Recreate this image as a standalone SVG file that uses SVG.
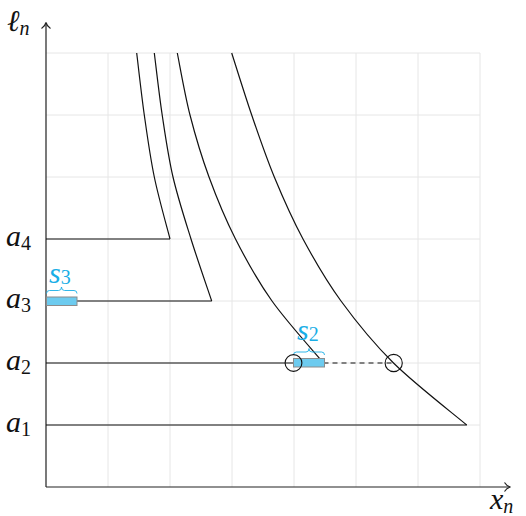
<svg xmlns="http://www.w3.org/2000/svg" width="526" height="516" viewBox="0 0 526 516">
<style>
.grid{stroke:#e6e6e6;stroke-width:1;fill:none}
.ax{stroke:#222;stroke-width:1.2;fill:none}
.cv{stroke:#111;stroke-width:1.2;fill:none}
.lab{font-family:"Liberation Serif","DejaVu Serif",serif;font-style:italic;font-size:30px;fill:#111}
.sub{font-size:20px;font-style:normal}
.subi{font-size:20px;font-style:italic}
.cy{fill:#1aaee6}
.bar{fill:#6dcbef;stroke:#8c8c8c;stroke-width:1}
.br{stroke:#1aaee6;stroke-width:0.9;fill:none}
.circ{stroke:#111;stroke-width:1.1;fill:none}
</style>
<rect width="526" height="516" fill="#fff"/>
<g id="grid" class="grid">
<path d="M108,53V487M170,53V487M232,53V487M294,53V487M356,53V487M418,53V487M480,53V487"/>
<path d="M46,53H480M46,115H480M46,177H480M46,239H480M46,301H480M46,363H480M46,425H480"/>
</g>
<g id="connectors">
<path class="ax" d="M46,487H510M46,487V23"/>
<path class="ax" d="M504.5,482.5C506,485 508.5,486.5 510.5,487C508.5,487.5 506,489 504.5,491.5"/>
<path class="ax" d="M41.5,28.5C44,27 45.5,24.5 46,22.5C46.5,24.5 48,27 50.5,28.5"/>
<path class="cv" d="M46,239H170M46,301H211.7M46,363H323.5M46,425H466.7"/>
<path class="cv" stroke-dasharray="5,4" d="M323.5,363H394"/>
<path class="cv" d="M136.7,53C137.97,63.33 141.37,94.33 144.3,115C147.23,135.67 150.02,156.33 154.3,177C158.58,197.67 167.38,228.67 170,239"/>
<path class="cv" d="M154.3,53C155.62,63.33 159.08,94.33 162.2,115C165.32,135.67 168.2,156.33 173,177C177.8,197.67 184.55,218.33 191,239C197.45,259.67 208.25,290.67 211.7,301"/>
<path class="cv" d="M177.3,53C179.42,63.33 184.72,94.33 190,115C195.28,135.67 201.42,156.33 209,177C216.58,197.67 225,218.33 235.5,239C246,259.67 257.33,280.33 272,301C286.67,321.67 314.92,352.67 323.5,363"/>
<path class="cv" d="M231.7,53C235.03,63.33 244.6,94.33 251.7,115C258.8,135.67 265.75,156.33 274.3,177C282.85,197.67 291.88,218.33 303,239C314.12,259.67 325.92,280.33 341,301C356.08,321.67 372.55,342.33 393.5,363C414.45,383.67 454.5,414.67 466.7,425"/>
</g>
<g id="axis-labels">
<text class="lab" x="7" y="31">ℓ<tspan class="subi" dy="4">n</tspan></text>
<text class="lab" x="490" y="509">x<tspan class="subi" dy="4">n</tspan></text>
</g>
<g id="a4"><text class="lab" x="6" y="246">a<tspan class="sub" dy="4">4</tspan></text></g>
<g id="a3"><text class="lab" x="6" y="308">a<tspan class="sub" dy="4">3</tspan></text></g>
<g id="a2"><text class="lab" x="6" y="370">a<tspan class="sub" dy="4">2</tspan></text></g>
<g id="a1"><text class="lab" x="6" y="432">a<tspan class="sub" dy="4">1</tspan></text></g>
<g id="s3">
<rect class="bar" x="46.5" y="297" width="30.5" height="8.5"/>
<path class="br" d="M46.5,293.5q0,-3 3,-3L58.5,290.5q3,0 3,-3.5q0,3.5 3,3.5L74,290.5q3,0 3,3"/>
<text class="lab cy" x="49" y="283">s<tspan class="sub" dy="1">3</tspan></text>
</g>
<g id="s2">
<rect class="bar" x="293.5" y="358.5" width="31" height="8.5"/>
<path class="br" d="M293.5,355q0,-3 3,-3L306,352q3,0 3,-3.5q0,3.5 3,3.5L321.5,352q3,0 3,3"/>
<text class="lab cy" x="297" y="340">s<tspan class="sub" dy="1">2</tspan></text>
</g>
<g id="circle-left"><circle class="circ" cx="293.5" cy="363" r="8.4"/></g>
<g id="circle-right"><circle class="circ" cx="393.7" cy="363" r="8.6"/></g>
</svg>
